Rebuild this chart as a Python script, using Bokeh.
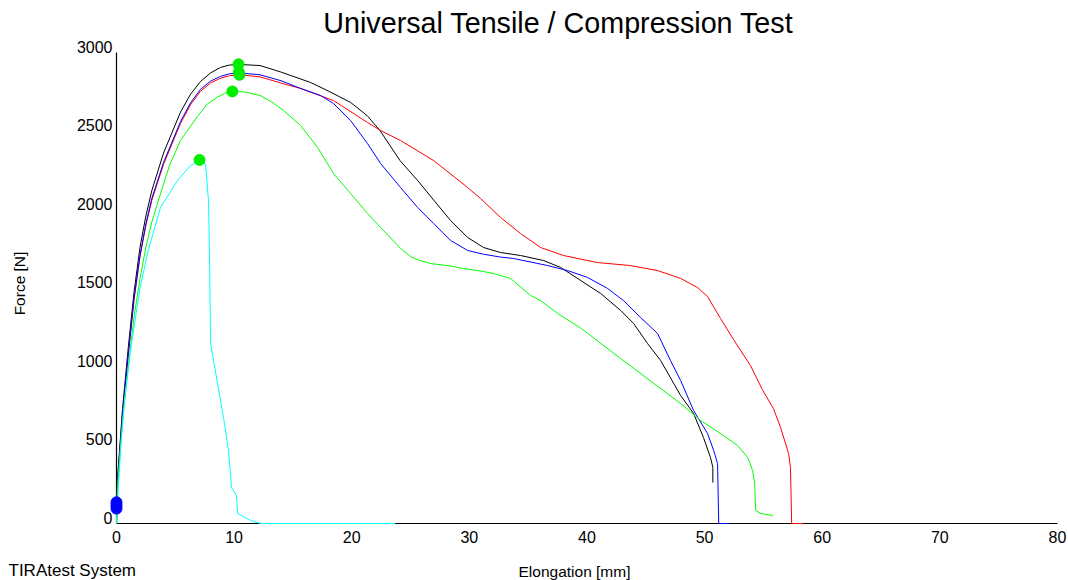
from bokeh.plotting import figure
from bokeh.models import Range1d, LabelSet, ColumnDataSource
from bokeh.core.properties import value
from bokeh.embed import file_html
from bokeh.resources import INLINE
import math

# ---- data (Elongation [mm], Force [N]) ----
black_e = [0, 0.05, 0.1, 0.5, 1.0, 1.5, 2.0, 2.5, 3.0, 4.0, 5.44, 6.3, 7.14, 8.0, 8.84, 9.6, 10.4, 12.2, 14.0,
           16.5, 18.0, 19.9, 21.3, 22.4, 24.1, 25.6, 27.0, 28.4, 29.85, 31.2, 32.65, 34.35, 36.3, 37.76,
           39.46, 41.16, 42.86, 43.96, 45.15, 46.26, 47.96, 49.06, 49.9, 50.5, 50.7, 50.7]
black_f = [0, 200, 300, 720, 1120, 1480, 1760, 1960, 2120, 2360, 2620, 2735, 2815, 2870, 2905, 2920, 2924, 2917,
           2875, 2809, 2755, 2682, 2599, 2503, 2312, 2185, 2057, 1930, 1822, 1758, 1726, 1707, 1675, 1631,
           1548, 1465, 1357, 1274, 1146, 1038, 815, 701, 548, 420, 357, 261]

blue_e = [0, 0.05, 0.1, 0.5, 1.0, 1.5, 2.0, 2.5, 3.0, 4.0, 5.44, 6.3, 7.14, 8.0, 8.84, 9.6, 10.4, 12.2, 14.0,
          15.65, 17.35, 18.45, 19.9, 21.34, 22.45, 24.15, 25.6, 26.96, 28.4, 29.85, 31.2, 32.65, 33.76,
          36.65, 38.35, 40.05, 41.75, 43.1, 44.56, 46.0, 47.1, 47.96, 49.06, 50.25, 50.77, 51.1, 51.2, 52.0]
blue_f = [0, 180, 280, 690, 1080, 1440, 1710, 1910, 2070, 2300, 2560, 2680, 2765, 2818, 2848, 2864, 2870, 2858,
          2820, 2771, 2726, 2675, 2567, 2420, 2293, 2140, 2013, 1911, 1803, 1739, 1715, 1697, 1688,
          1643, 1611, 1567, 1497, 1420, 1312, 1210, 1038, 911, 720, 573, 465, 382, 0, 0]

red_e = [0, 0.05, 0.1, 0.5, 1.0, 1.5, 2.0, 2.5, 3.0, 4.0, 5.44, 6.3, 7.14, 8.0, 8.84, 9.6, 10.4, 12.2, 14.0,
         15.65, 18.45, 21.34, 22.45, 24.15, 26.96, 29.85, 30.95, 32.65, 34.35, 36.05, 38.0, 40.9, 43.7,
         46.0, 47.96, 49.4, 50.25, 51.36, 52.47, 53.9, 54.9, 55.85, 56.46, 57.14, 57.3, 57.4, 58.4]
red_f = [0, 175, 275, 680, 1070, 1430, 1700, 1900, 2058, 2288, 2548, 2668, 2753, 2806, 2836, 2852, 2858, 2845,
         2805, 2771, 2694, 2554, 2503, 2439, 2312, 2140, 2070, 1949, 1847, 1758, 1707, 1662, 1643,
         1611, 1561, 1503, 1445, 1305, 1170, 1006, 854, 732, 611, 446, 357, 0, 0]

green_e = [0, 0.05, 0.1, 0.5, 1.0, 1.5, 2.0, 2.5, 3.0, 3.74, 4.5, 5.44, 6.86, 7.7, 8.56, 9.2, 9.86, 11.0, 12.24,
           13.2, 14.2, 15.65, 17.1, 18.45, 19.9, 21.34, 22.7, 24.15, 25.0, 25.6, 26.7, 28.4, 29.5, 31.2,
           32.06, 33.5, 35.2, 36.05, 37.5, 39.46, 42.86, 47.96, 49.66, 51.36, 52.8, 53.66, 54.08, 54.25,
           54.34, 54.76, 55.8]
green_f = [0, 150, 250, 640, 1000, 1320, 1560, 1760, 1920, 2100, 2280, 2440, 2590, 2670, 2715, 2740, 2752, 2748,
           2725, 2685, 2631, 2535, 2395, 2229, 2102, 1975, 1866, 1752, 1700, 1680, 1656, 1640, 1624, 1605,
           1592, 1561, 1452, 1420, 1338, 1245, 1051, 764, 656, 573, 497, 420, 338, 255,
           83, 64, 51]

cyan_e = [0, 0.1, 0.34, 0.7, 1.19, 2.0, 2.7, 3.74, 5.19, 6.29, 7.06, 7.57, 7.82, 7.9, 8.0, 8.59, 9.1,
          9.52, 9.78, 10.2, 10.3, 11.4, 12.24, 23.7]
cyan_f = [0, 150, 465, 800, 1102, 1500, 1739, 2013, 2185, 2280, 2312, 2290, 2057, 1739, 1146, 892, 675,
          465, 229, 178, 64, 19, 0, 0]

max_e = [10.37, 10.4, 10.45, 9.85, 7.06]
max_f = [2925, 2875, 2858, 2752, 2316]

start_e = [0, 0, 0]
start_f = [95, 115, 135]

x_ticks = [0, 10, 20, 30, 40, 50, 60, 70, 80]
y_ticks = [0, 500, 1000, 1500, 2000, 2500, 3000]

title_text = "Universal Tensile / Compression Test"
x_label = "Elongation [mm]"
y_label = "Force [N]"
footer_text = "TIRAtest System"

# ---- layout (pixels) ----
W, H = 1068, 580
LEFT, RIGHT, TOP, BOTTOM = 116, 1057, 52, 523
FONT = value("Liberation Sans")

kx = (RIGHT - LEFT) / (x_ticks[-1] - x_ticks[0])
ky = (BOTTOM - TOP) / (y_ticks[-1] - y_ticks[0])
x_range = Range1d(x_ticks[0] - LEFT / kx, x_ticks[-1] + (W - RIGHT) / kx)
y_range = Range1d(y_ticks[0] - (H - BOTTOM) / ky, y_ticks[-1] + TOP / ky)

p = figure(width=W, height=H, output_backend="svg", toolbar_location=None, title=None,
           x_range=x_range, y_range=y_range, x_axis_location=None, y_axis_location=None,
           min_border=0)
p.outline_line_color = None
p.xgrid.visible = False
p.ygrid.visible = False

# axis lines
p.segment(x0=[x_ticks[0], x_ticks[0]], y0=[y_ticks[0], y_ticks[0]],
          x1=[x_ticks[-1], x_ticks[0]], y1=[y_ticks[0], y_ticks[-1]],
          line_color="black", line_width=1.2)

series = [(black_e, black_f, "#000000"), (red_e, red_f, "#ff0000"), (blue_e, blue_f, "#0000ff"),
          (green_e, green_f, "#00ff00"), (cyan_e, cyan_f, "#00ffff")]
for e, f, c in series:
    p.line(e, f, line_color=c, line_width=1)

p.scatter(max_e, max_f, size=11, fill_color="#00ee00", line_color="#00ee00")
p.scatter(start_e, start_f, size=11, fill_color="#0000ff", line_color="#0000ff")

# tick labels
xsrc = ColumnDataSource(dict(x=x_ticks, y=[y_ticks[0]] * len(x_ticks), t=[str(v) for v in x_ticks]))
p.add_layout(LabelSet(x="x", y="y", text="t", source=xsrc, y_offset=-19,
                      text_align="center", text_baseline="alphabetic", text_font=FONT,
                      text_font_size="16px", text_color="black"))
ysrc = ColumnDataSource(dict(y=y_ticks, x=[x_ticks[0]] * len(y_ticks), t=[str(v) for v in y_ticks]))
p.add_layout(LabelSet(x="x", y="y", text="t", source=ysrc, x_offset=-4,
                      text_align="right", text_baseline="alphabetic", text_font=FONT,
                      text_font_size="16px", text_color="black"))


def screen_text(txt, px, py, size, align="center", angle=0.0):
    src = ColumnDataSource(dict(x=[px], y=[H - py], t=[txt]))
    p.add_layout(LabelSet(x="x", y="y", text="t", source=src, x_units="screen", y_units="screen",
                          angle=angle, text_align=align, text_baseline="alphabetic",
                          text_font=FONT, text_font_size=size, text_color="black"))


screen_text(title_text, 558, 32, "28.7px")
screen_text(footer_text, 8, 575, "17px", align="left")
screen_text(x_label, 574, 576, "15.5px")
screen_text(y_label, 24, 283, "15.5px", angle=math.pi / 2)

open("out.html", "w").write(file_html(p, INLINE))
